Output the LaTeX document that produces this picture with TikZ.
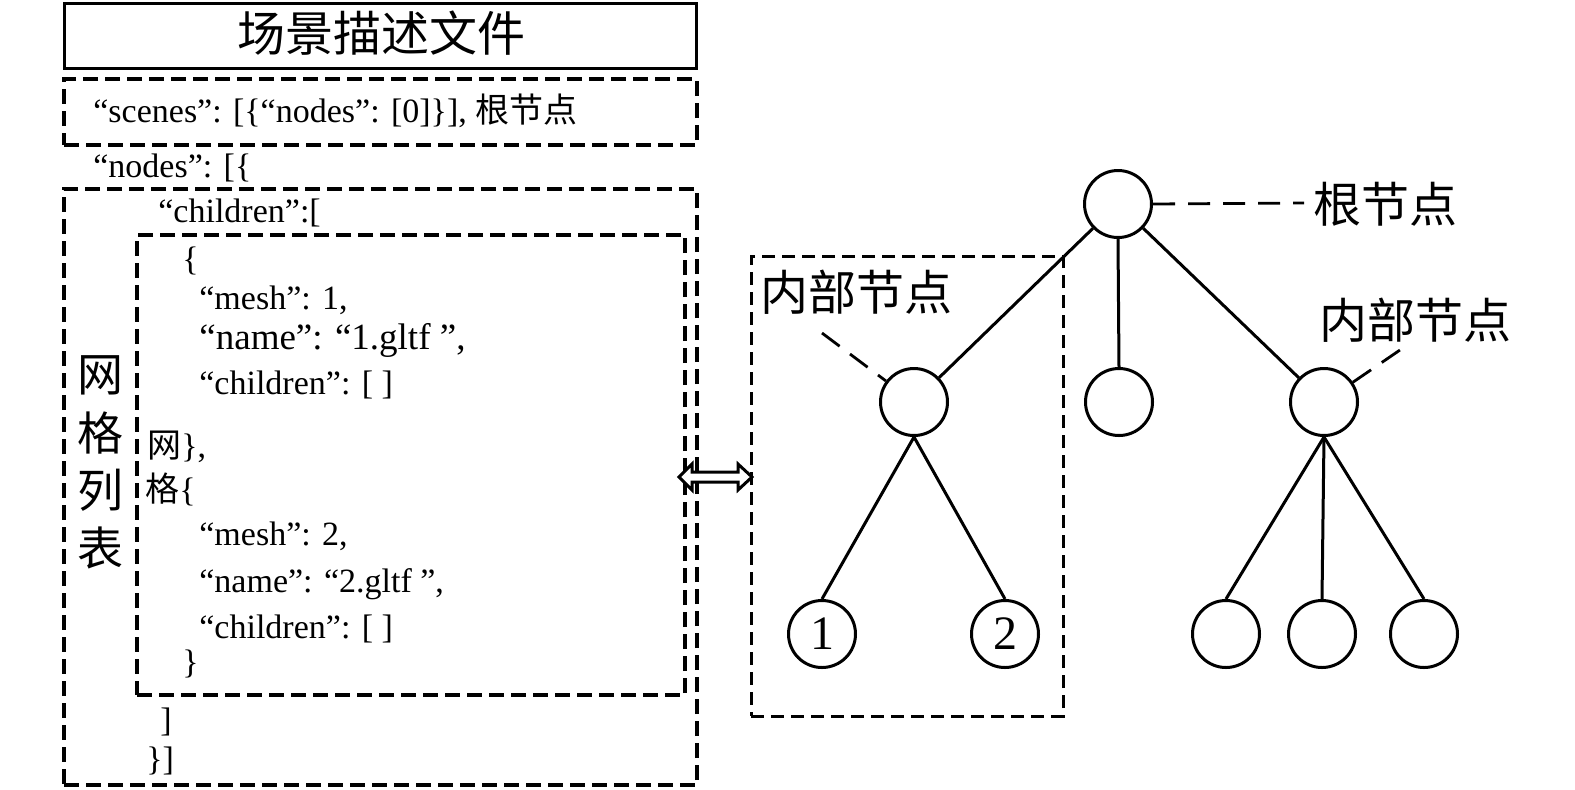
\documentclass[tikz,border=0pt]{standalone}
\usepackage{fontspec}
\setmainfont{Liberation Serif}
\newfontfamily\cjk{Noto Sans CJK SC}
\begin{document}
\begin{tikzpicture}[x=0.5pt,y=-0.5pt,
  code/.style={anchor=base west, inner sep=0pt, font=\fontsize{17pt}{20pt}\selectfont},
  codebig/.style={anchor=base west, inner sep=0pt, font=\fontsize{18.5pt}{22pt}\selectfont},
  bigcjk/.style={inner sep=0pt, font=\cjk\fontsize{24pt}{28pt}\selectfont},
  vcjk/.style={inner sep=0pt, font=\cjk\fontsize{23pt}{27pt}\selectfont},
  tnode/.style={circle, draw, line width=1.5pt, minimum size=33.5pt, inner sep=0pt, font=\fontsize{24pt}{28pt}\selectfont},
  boxdash/.style={draw, line width=1.6pt, dash pattern=on 7.5pt off 3.5pt, inner sep=0pt},
  rboxdash/.style={draw, line width=1.5pt, dash pattern=on 6.5pt off 3.5pt, inner sep=0pt},
  ldash/.style={line width=1.4pt, dash pattern=on 11pt off 6.5pt},
  edge/.style={line width=1.5pt},
  dbl/.style={line width=1.5pt, fill=white, line join=miter}
]
\useasboundingbox (0,0) rectangle (1575,789);

% left panel boxes
\node[draw, line width=1.5pt, minimum width=316pt, minimum height=32.5pt, inner sep=0pt] (title) at (380.5,36) {};
\node[bigcjk] (titletext) at (381,33) {场景描述文件};
\node[boxdash, minimum width=316.5pt, minimum height=33pt] (scenebox) at (380.5,112) {};
\node[boxdash, minimum width=316.5pt, minimum height=298pt] (outer) at (380.5,487) {};
\node[boxdash, minimum width=274pt, minimum height=230pt] (inner) at (411,465) {};

% left panel texts
\node[code] (t1) at (93,122) {“scenes”: [\{“nodes”: [0]\}], {\cjk 根节点}};
\node[code] (t2) at (93,177) {“nodes”: [\{};
\node[code] (t3) at (158,222) {“children”:[};
\node[code] (t4) at (182,270) {\{};
\node[code] (t5) at (199,309) {“mesh”: 1,};
\node[codebig] (t6) at (199,349) {“name”: “1.gltf ”,};
\node[code] (t7) at (199,394) {“children”: [ ]};
\node[code] (t8) at (147,457) {{\cjk 网}\},};
\node[code] (t9) at (145,501) {{\cjk 格}\{};
\node[code] (t10) at (199,545) {“mesh”: 2,};
\node[code] (t11) at (199,592) {“name”: “2.gltf ”,};
\node[code] (t12) at (199,638) {“children”: [ ]};
\node[code] (t13) at (182,673) {\}};
\node[code] (t14) at (160,731) {]};
\node[code] (t15) at (146,770) {\}]};

\node[vcjk] (v1) at (100,375) {网};
\node[vcjk] (v2) at (100,433) {格};
\node[vcjk] (v3) at (100,490) {列};
\node[vcjk] (v4) at (100,548) {表};

% double arrow
\draw[dbl] (679,477) -- (692,464) -- (692,472) -- (738,472) -- (738,464) -- (752,477)
  -- (738,490) -- (738,482) -- (692,482) -- (692,490) -- cycle;

% right box
\node[rboxdash, minimum width=156pt, minimum height=230pt] (rbox) at (907,486) {};

% tree
\node[tnode] (root) at (1118,204) {};
\node[tnode] (L) at (914,402) {};
\node[tnode] (M) at (1119,402) {};
\node[tnode] (R) at (1324,402) {};
\node[tnode] (l1) at (822,634) {1};
\node[tnode] (l2) at (1005,634) {2};
\node[tnode] (r1) at (1226,634) {};
\node[tnode] (r2) at (1322,634) {};
\node[tnode] (r3) at (1424,634) {};

\draw[edge] (root) -- (L);
\draw[edge] (root.south) -- (M.north);
\draw[edge] (root) -- (R);
\draw[edge] (L.south) -- (l1.north);
\draw[edge] (L.south) -- (l2.north);
\draw[edge] (R.south) -- (r1.north);
\draw[edge] (R.south) -- (r2.north);
\draw[edge] (R.south) -- (r3.north);

% labels
\node[bigcjk] (rootlbl) at (1385,204) {根节点};
\node[bigcjk] (inl) at (856,292) {内部节点};
\node[bigcjk] (inr) at (1415,320) {内部节点};
\coordinate (c0) at (1304,203);
\coordinate (c1) at (822,333);
\coordinate (c2) at (1400,350);
\draw[ldash] (root.east) -- (c0);
\draw[ldash] (c1) -- (L);
\draw[ldash] (R) -- (c2);
\end{tikzpicture}
\end{document}
